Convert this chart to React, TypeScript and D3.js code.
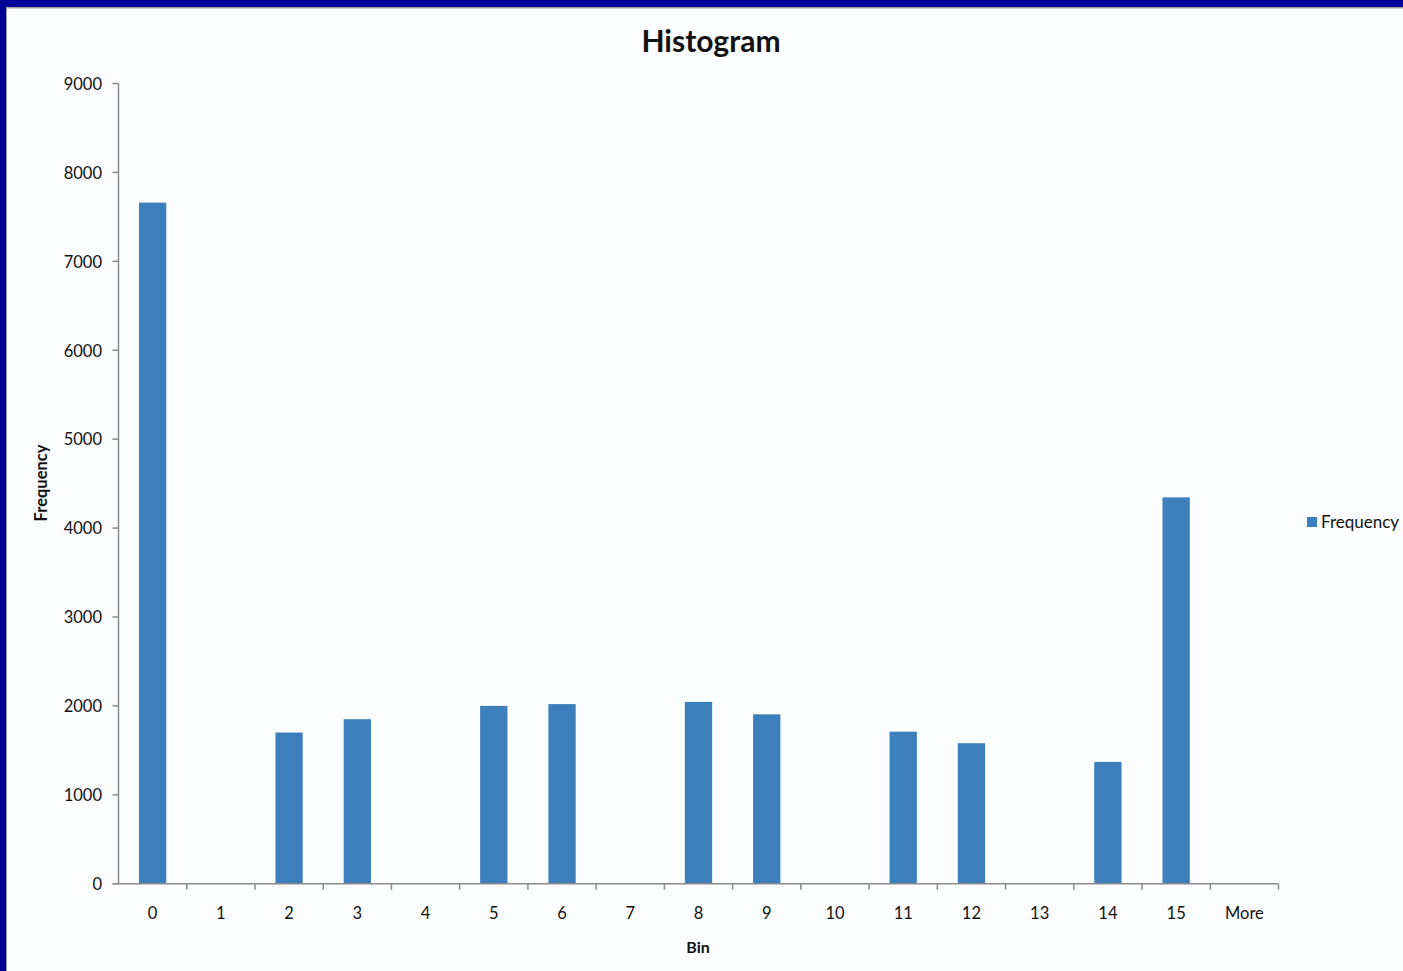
import React from "react";
import * as d3 from "d3";

const bins = ["0", "1", "2", "3", "4", "5", "6", "7", "8", "9", "10", "11", "12", "13", "14", "15", "More"];
const frequency = [7660, 0, 1700, 1850, 0, 2000, 2020, 0, 2045, 1905, 0, 1710, 1580, 0, 1370, 4345, 0];
const yTicks = [0, 1000, 2000, 3000, 4000, 5000, 6000, 7000, 8000, 9000];
const title = "Histogram";
const xTitle = "Bin";
const yTitle = "Frequency";
const legendLabel = "Frequency";

const W = 1403;
const H = 971;
const FONT = "Lato, 'Open Sans', sans-serif";

export default function App() {
  const left = 118.5, right = 1278.5, top = 83.5, bottom = 883.7;
  const x = d3.scaleBand<string>().domain(bins).range([left, right]).paddingInner(0).paddingOuter(0);
  const y = d3.scaleLinear().domain([0, 9000]).range([bottom, top]);
  const bw = x.bandwidth() / 2.5;
  const axisColor = "#8a8a8a";
  const barColor = "#3b80bd";

  return (
    <svg width={W} height={H} style={{ position: "absolute", left: 0, top: 0, display: "block" }}>
      <rect x={0} y={0} width={W} height={H} fill="#000099" />
      <rect x={6} y={7} width={W - 6} height={H - 7} fill="#a0a0a0" />
      <rect x={7} y={8.5} width={W - 7} height={H - 8.5} fill="#fbfdfe" />

      <text x={711} y={52} textAnchor="middle" fontFamily={FONT} fontWeight="bold" fontSize={30} fill="#111">
        {title}
      </text>

      {/* y axis */}
      <line x1={left} x2={left} y1={top} y2={bottom} stroke={axisColor} strokeWidth={1.5} />
      {yTicks.map((t) => (
        <g key={t}>
          <line x1={left - 6} x2={left} y1={y(t)} y2={y(t)} stroke={axisColor} strokeWidth={1.5} />
          <text x={102} y={y(t) + 0.5} dy="0.35em" textAnchor="end" fontFamily={FONT} fontSize={16.5} fill="#111">
            {t}
          </text>
        </g>
      ))}

      {/* bars */}
      {bins.map((b, i) =>
        frequency[i] > 0 ? (
          <rect
            key={b}
            x={(x(b) as number) + x.bandwidth() / 2 - bw / 2}
            y={y(frequency[i])}
            width={bw}
            height={y(0) - y(frequency[i])}
            fill={barColor}
          />
        ) : null
      )}

      {/* x axis */}
      <line x1={left - 6} x2={right} y1={bottom} y2={bottom} stroke={axisColor} strokeWidth={1.5} />
      {bins.map((b) => (
        <line
          key={"t" + b}
          x1={(x(b) as number) + x.bandwidth()}
          x2={(x(b) as number) + x.bandwidth()}
          y1={bottom}
          y2={bottom + 6}
          stroke={axisColor}
          strokeWidth={1.5}
        />
      ))}
      {bins.map((b) => (
        <text
          key={"l" + b}
          x={(x(b) as number) + x.bandwidth() / 2}
          y={919}
          textAnchor="middle"
          fontFamily={FONT}
          fontSize={16.5}
          fill="#111"
        >
          {b}
        </text>
      ))}

      <text x={698} y={953} textAnchor="middle" fontFamily={FONT} fontWeight="bold" fontSize={16} fill="#111">
        {xTitle}
      </text>
      <text
        transform={`translate(47,483) rotate(-90)`}
        textAnchor="middle"
        fontFamily={FONT}
        fontWeight="bold"
        fontSize={16.5}
        fill="#111"
      >
        {yTitle}
      </text>

      {/* legend */}
      <rect x={1307} y={517} width={10} height={10} fill={barColor} />
      <text x={1321} y={522.5} dy="0.35em" fontFamily={FONT} fontSize={17} fill="#111">
        {legendLabel}
      </text>
    </svg>
  );
}
